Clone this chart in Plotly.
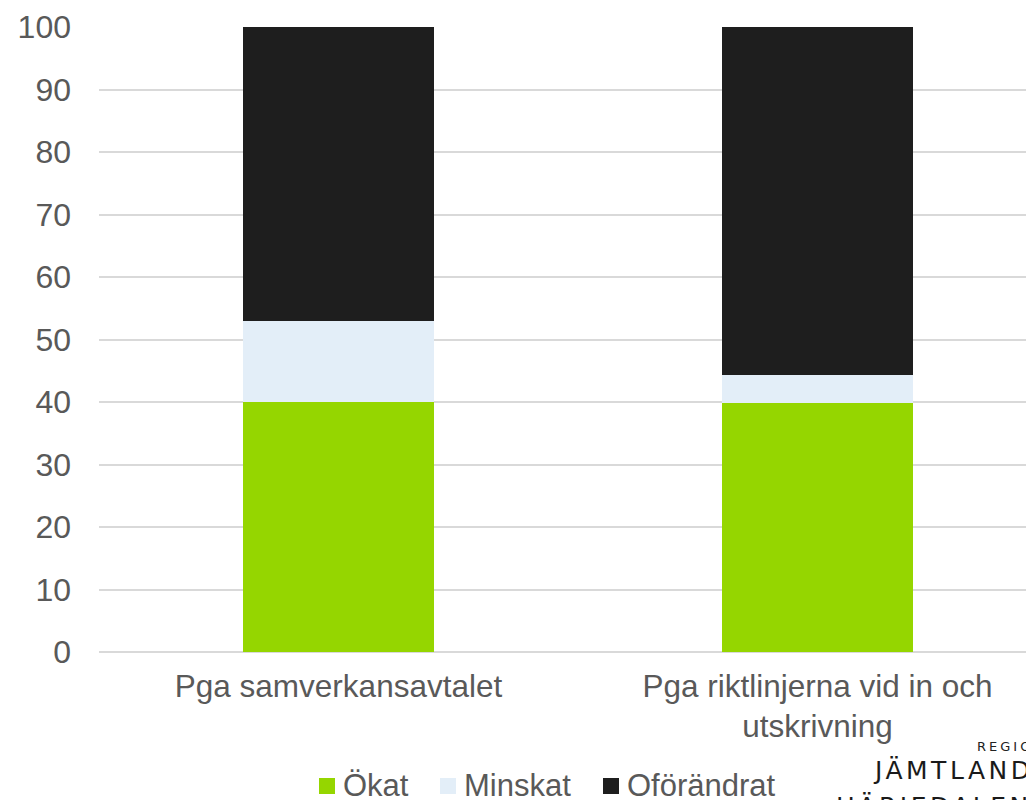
import plotly.graph_objects as go

categories = ["Pga samverkansavtalet", "Pga riktlinjerna vid in och<br>utskrivning"]
series_names = ["Ökat", "Minskat", "Oförändrat"]
okat = [40.0, 39.8]
minskat = [13.0, 4.6]
oforandrat = [47.0, 55.6]
yticks = [0, 10, 20, 30, 40, 50, 60, 70, 80, 90, 100]

colors = ["#95D600", "#E3EEF8", "#1E1E1E"]

# page body has an 8px default margin; figure sized to fit the window
OFF = 8
W, H = 1034 - OFF, 800 - OFF
# plot area in window pixels
PL, PT, PR, PB = 99, 27, 1034, 652
L, T = PL - OFF, PT - OFF
R = (OFF + W) - PR
B = (OFF + H) - PB
pw = PR - PL
ph = PB - PT


def px(x):
    return (x - PL) / pw


def py(y):
    return (PB - y) / ph


font = "Liberation Sans, Arial, sans-serif"
gray = "#595959"

fig = go.Figure()
xs = [0, 1]
for name, vals, col in zip(series_names, [okat, minskat, oforandrat], colors):
    fig.add_trace(go.Bar(x=xs, y=vals, name=name, width=0.4,
                         marker=dict(color=col, line=dict(width=0))))

fig.update_layout(
    barmode="stack",
    width=W, height=H,
    margin=dict(l=L, r=R, t=T, b=B, pad=0, autoexpand=False),
    paper_bgcolor="white", plot_bgcolor="white",
    font=dict(family=font, size=31, color=gray),
    showlegend=False,
    xaxis=dict(range=[-0.5, 1.452], tickmode="array", tickvals=xs,
               ticktext=categories, showgrid=False, zeroline=False,
               showline=False, ticks="", ticklabelstandoff=12,
               automargin=False,
               tickfont=dict(size=31.5, color=gray)),
    yaxis=dict(range=[0, 100], tickmode="array", tickvals=yticks,
               showgrid=True, gridcolor="#D9D9D9", gridwidth=1.5,
               zeroline=True, zerolinecolor="#D9D9D9", zerolinewidth=1.5,
               showline=False, ticks="", ticklabelstandoff=27,
               automargin=False,
               tickfont=dict(size=32, color=gray)),
)

# legend drawn manually (squares + labels), window pixel positions
legend_sq_x = [319, 440, 603]
for name, col, sx in zip(series_names, colors, legend_sq_x):
    fig.add_shape(type="rect", xref="paper", yref="paper",
                  x0=px(sx), x1=px(sx + 16), y0=py(794), y1=py(778),
                  fillcolor=col, line=dict(width=0), layer="above")
    fig.add_annotation(text=name, xref="paper", yref="paper",
                       x=px(sx + 22), y=py(785), xanchor="left", yanchor="middle",
                       showarrow=False, font=dict(family=font, size=31, color=gray))

# logo text
fig.add_annotation(text='<span style="letter-spacing:3px">REGION</span>',
                   xref="paper", yref="paper",
                   x=px(975), y=py(746), xanchor="left", yanchor="middle",
                   showarrow=False, font=dict(family="DejaVu Sans", size=13, color="#222222"))
fig.add_annotation(text='<span style="letter-spacing:3.5px">JÄMTLAND</span>',
                   xref="paper", yref="paper",
                   x=px(871), y=py(771), xanchor="left", yanchor="middle",
                   showarrow=False, font=dict(family="DejaVu Sans", size=25, color="#1a1a1a"))
fig.add_annotation(text='<span style="letter-spacing:3.5px">HÄRJEDALEN</span>',
                   xref="paper", yref="paper",
                   x=px(834), y=py(806), xanchor="left", yanchor="middle",
                   showarrow=False, font=dict(family="DejaVu Sans", size=25, color="#1a1a1a"))

fig.write_html("out.html")
